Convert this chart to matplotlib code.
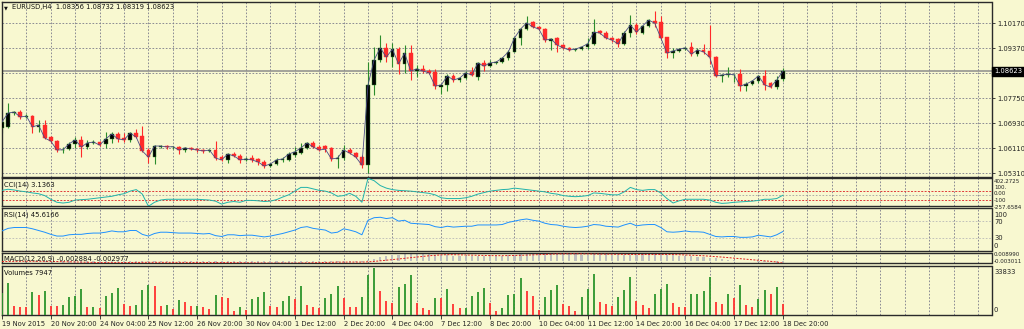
import matplotlib
matplotlib.use('Agg')
import matplotlib.pyplot as plt
import matplotlib.transforms as mtransforms
import numpy as np

# ---------------- data (EURUSD H4) ----------------
opens = [1.0678,1.0682,1.0727,1.0730,1.0714,1.0717,1.0682,1.0688,1.0649,1.0636,
         1.0607,1.0610,1.0627,1.0640,1.0617,1.0630,1.0633,1.0627,1.0643,1.0659,
         1.0646,1.0640,1.0662,1.0652,1.0607,1.0584,1.0617,1.0620,1.0617,1.0617,
         1.0607,1.0614,1.0610,1.0607,1.0604,1.0607,1.0584,1.0575,1.0594,1.0588,
         1.0575,1.0581,1.0578,1.0568,1.0555,1.0562,1.0575,1.0575,1.0591,1.0597,
         1.0614,1.0630,1.0617,1.0620,1.0614,1.0578,1.0581,1.0607,1.0597,1.0584,
         1.0558,1.0818,1.0899,1.0938,1.0908,1.0934,1.0886,1.0921,1.0863,1.0870,
         1.0863,1.0860,1.0811,1.0818,1.0847,1.0834,1.0840,1.0860,1.0844,1.0889,
         1.0879,1.0889,1.0892,1.0905,1.0925,1.0970,1.0999,1.1022,1.1006,1.0999,
         1.0960,1.0970,1.0947,1.0938,1.0931,1.0934,1.0941,1.0951,1.0993,1.0986,
         1.0970,1.0967,1.0951,1.0986,1.1012,1.0986,1.1009,1.1025,1.1022,1.0973,
         1.0921,1.0928,1.0934,1.0941,1.0918,1.0931,1.0928,1.0908,1.0847,1.0850,
         1.0850,1.0853,1.0814,1.0821,1.0831,1.0847,1.0824,1.0811,1.08356]
highs = [1.0714,1.0759,1.0733,1.0737,1.0724,1.0720,1.0704,1.0704,1.0652,1.0640,
         1.0617,1.0633,1.0649,1.0652,1.0640,1.0640,1.0636,1.0665,1.0665,1.0665,
         1.0662,1.0665,1.0675,1.0685,1.0614,1.0623,1.0623,1.0623,1.0620,1.0620,
         1.0617,1.0617,1.0614,1.0610,1.0610,1.0636,1.0591,1.0597,1.0601,1.0594,
         1.0584,1.0591,1.0581,1.0575,1.0565,1.0581,1.0584,1.0601,1.0617,1.0630,
         1.0633,1.0636,1.0623,1.0623,1.0617,1.0591,1.0623,1.0614,1.0601,1.0591,
         1.0892,1.0941,1.0980,1.0954,1.0954,1.0941,1.0947,1.0947,1.0882,1.0882,
         1.0870,1.0870,1.0818,1.0853,1.0853,1.0844,1.0863,1.0876,1.0892,1.0899,
         1.0899,1.0895,1.0908,1.0931,1.0973,1.1002,1.1041,1.1025,1.1009,1.1002,
         1.0970,1.0973,1.0951,1.0941,1.0938,1.0944,1.0970,1.1031,1.0996,1.0993,
         1.0973,1.0970,1.0993,1.1044,1.1019,1.1012,1.1031,1.1057,1.1041,1.0973,
         1.0938,1.0938,1.0941,1.0957,1.0938,1.0951,1.1012,1.0912,1.0853,1.0876,
         1.0853,1.0870,1.0827,1.0834,1.0850,1.0866,1.0827,1.0847,1.08732]
lows = [1.0662,1.0678,1.0720,1.0708,1.0711,1.0662,1.0665,1.0643,1.0630,1.0601,
        1.0597,1.0607,1.0614,1.0584,1.0610,1.0627,1.0620,1.0614,1.0630,1.0633,
        1.0633,1.0633,1.0646,1.0601,1.0565,1.0562,1.0614,1.0610,1.0610,1.0594,
        1.0601,1.0607,1.0601,1.0597,1.0601,1.0575,1.0571,1.0565,1.0584,1.0565,
        1.0571,1.0568,1.0558,1.0549,1.0552,1.0558,1.0568,1.0571,1.0584,1.0594,
        1.0610,1.0614,1.0604,1.0601,1.0571,1.0549,1.0575,1.0594,1.0581,1.0549,
        1.0533,1.0785,1.0892,1.0892,1.0876,1.0853,1.0857,1.0834,1.0844,1.0857,
        1.0853,1.0805,1.0789,1.0798,1.0827,1.0827,1.0837,1.0847,1.0834,1.0863,
        1.0876,1.0886,1.0889,1.0899,1.0925,1.0947,1.0996,1.1002,1.0996,1.0957,
        1.0931,1.0925,1.0934,1.0928,1.0928,1.0931,1.0934,1.0947,1.0983,1.0967,
        1.0957,1.0941,1.0947,1.0973,1.0983,1.0983,1.1006,1.1006,1.0967,1.0905,
        1.0905,1.0925,1.0931,1.0912,1.0912,1.0918,1.0886,1.0844,1.0827,1.0844,
        1.0827,1.0798,1.0798,1.0818,1.0824,1.0802,1.0808,1.0805,1.08319]
closes = [1.0698,1.0727,1.0730,1.0714,1.0717,1.0682,1.0688,1.0646,1.0636,1.0607,
          1.0608,1.0627,1.0640,1.0617,1.0630,1.0633,1.0623,1.0643,1.0659,1.0643,
          1.0640,1.0662,1.0649,1.0604,1.0584,1.0620,1.0620,1.0617,1.0618,1.0607,
          1.0614,1.0610,1.0607,1.0604,1.0607,1.0581,1.0575,1.0594,1.0588,1.0575,
          1.0578,1.0575,1.0568,1.0555,1.0562,1.0575,1.0578,1.0594,1.0601,1.0614,
          1.0630,1.0617,1.0607,1.0610,1.0578,1.0581,1.0607,1.0597,1.0584,1.0558,
          1.0818,1.0899,1.0938,1.0908,1.0934,1.0886,1.0921,1.0863,1.0870,1.0863,
          1.0857,1.0814,1.0818,1.0847,1.0834,1.0840,1.0857,1.0850,1.0889,1.0879,
          1.0889,1.0892,1.0905,1.0925,1.0970,1.0999,1.1019,1.1006,1.0999,1.0963,
          1.0967,1.0947,1.0938,1.0931,1.0934,1.0941,1.0951,1.0989,1.0986,1.0970,
          1.0963,1.0951,1.0986,1.1012,1.0989,1.1009,1.1028,1.1018,1.0970,1.0921,
          1.0928,1.0934,1.0938,1.0918,1.0931,1.0925,1.0908,1.0847,1.0850,1.0853,
          1.0851,1.0814,1.0821,1.0831,1.0847,1.0818,1.0811,1.0834,1.08623]
volumes = [16180,23150,6720,5970,5470,16930,14430,17670,6720,6720,
           7220,13440,13690,18910,5970,6100,4980,13930,16170,19660,
           7960,6720,7220,17910,22140,21150,6720,7220,4480,10950,
           9210,6720,6900,5470,4480,14430,13440,12440,2990,5720,
           3730,11690,13440,16670,6720,5470,9950,13930,11690,20900,
           7220,5470,4730,12190,15430,21400,12190,5970,5470,13440,
           28860,33833,17670,10200,8460,20200,22890,29110,8710,5230,
           3730,12690,12190,18910,8210,4980,5200,14180,16670,19660,
           8710,2990,4730,14680,15430,26620,17420,14180,3980,13440,
           18410,21900,7710,6720,2990,13440,18910,29860,9460,7710,
           6720,13440,17910,27620,10450,7220,4980,15180,18910,22890,
           8710,5470,5470,15430,15600,17670,27870,9460,7710,15180,
           12690,21650,7220,5470,11940,18410,15180,20150,7947]
cci = [118,144,127,100,83,57,39,-5,-92,-163,
       -180,-163,-110,-101,-92,-75,-57,-40,-22,13,
       39,100,136,30,-257.6584,-163,-110,-92,-92,-92,
       -92,-92,-92,-101,-110,-136,-206,-163,-145,-163,
       -119,-119,-128,-145,-136,-101,-40,13,100,188,
       188,153,118,100,57,-22,-5,48,-22,-163,
       402.2725,346,232,171,136,118,109,100,83,65,
       48,13,-57,-75,-75,-75,-57,-22,30,65,
       100,118,136,144,171,153,136,118,100,83,
       48,30,-5,-22,-31,-22,-5,57,48,30,
       13,13,83,188,136,118,136,136,57,-75,
       -180,-128,-92,-92,-92,-92,-110,-163,-189,-180,
       -163,-154,-145,-136,-119,-92,-92,-75,3.1363]
rsi = [47,53,55,55,55,52,48,44,39,35,
       35,38,39,39,41,42,42,44,47,45,
       45,48,48,39,35,41,44,44,43,42,
       42,42,41,40,41,36,34,38,38,36,
       37,37,35,33,35,38,41,45,49,55,
       57,53,51,49,42,44,52,49,45,38,
       72,78,79,76,78,70,72,65,64,63,
       62,57,55,58,56,57,58,58,61,61,
       61,61,62,67,70,73,75,72,70,65,
       62,61,58,56,55,56,58,62,61,58,
       57,56,61,65,59,61,62,62,55,45,
       44,45,47,45,45,44,39,34,33,34,
       34,32,32,33,37,35,33,38,45.6166]
macd_main = [-0.0008,-0.0006,-0.0005,-0.0005,-0.0006,-0.0008,-0.0010,-0.0013,-0.0016,-0.0020,
             -0.0023,-0.0024,-0.0024,-0.0025,-0.0025,-0.0025,-0.0025,-0.0024,-0.0022,-0.0021,
             -0.0020,-0.0018,-0.0016,-0.0018,-0.0021,-0.0022,-0.0022,-0.0022,-0.0022,-0.0022,
             -0.0022,-0.0022,-0.0022,-0.0022,-0.0022,-0.0024,-0.0026,-0.0026,-0.0027,-0.0028,
             -0.0028,-0.0029,-0.0030,-0.0031,-0.0032,-0.0031,-0.0030,-0.0028,-0.0026,-0.0023,
             -0.0020,-0.0018,-0.0017,-0.0016,-0.0017,-0.0018,-0.0016,-0.0016,-0.0017,-0.0019,
             0.0004,0.0025,0.0044,0.0056,0.0067,0.0072,0.0078,0.0079,0.0080,0.0080,
             0.0079,0.0074,0.0069,0.0067,0.0063,0.0060,0.0059,0.0057,0.0059,0.0059,
             0.0060,0.0061,0.0063,0.0067,0.0073,0.0080,0.0085,0.0089,0.0090,0.0089,
             0.0087,0.0084,0.0082,0.0080,0.0077,0.0075,0.0074,0.0076,0.0077,0.0076,
             0.0074,0.0071,0.0071,0.0074,0.0075,0.0077,0.0080,0.0082,0.0080,0.0073,
             0.0066,0.0061,0.0056,0.0051,0.0047,0.0043,0.0038,0.0028,0.0019,0.0013,
             0.0007,0.0000,-0.0006,-0.0010,-0.0013,-0.0017,-0.0021,-0.0025,-0.002884]
macd_signal = [-0.0010,-0.0009,-0.0008,-0.0007,-0.0007,-0.0007,-0.0007,-0.0008,-0.0009,-0.0010,
               -0.0012,-0.0014,-0.0016,-0.0018,-0.0020,-0.0022,-0.0023,-0.0024,-0.0024,-0.0024,
               -0.0023,-0.0022,-0.0021,-0.0020,-0.0020,-0.0020,-0.0020,-0.0020,-0.0021,-0.0021,
               -0.0021,-0.0022,-0.0022,-0.0022,-0.0022,-0.0022,-0.0023,-0.0023,-0.0024,-0.0025,
               -0.0026,-0.0026,-0.0027,-0.0028,-0.0029,-0.0029,-0.0030,-0.0030,-0.0029,-0.0028,
               -0.0027,-0.0025,-0.0023,-0.0021,-0.0019,-0.0018,-0.0017,-0.0017,-0.0017,-0.0017,
               -0.0014,-0.0009,-0.0002,0.0005,0.0013,0.0021,0.0029,0.0037,0.0045,0.0053,
               0.0060,0.0066,0.0071,0.0073,0.0073,0.0071,0.0069,0.0067,0.0065,0.0063,
               0.0062,0.0061,0.0061,0.0062,0.0063,0.0065,0.0068,0.0071,0.0074,0.0077,
               0.0080,0.0082,0.0083,0.0084,0.0084,0.0083,0.0082,0.0080,0.0079,0.0078,
               0.0077,0.0076,0.0075,0.0075,0.0075,0.0075,0.0075,0.0076,0.0076,0.0076,
               0.0075,0.0073,0.0070,0.0067,0.0064,0.0060,0.0055,0.0050,0.0044,0.0038,
               0.0031,0.0024,0.0017,0.0011,0.0005,-0.0001,-0.0008,-0.0016,-0.002977]
date_labels = ['19 Nov 2015', '20 Nov 20:00', '24 Nov 04:00', '25 Nov 12:00', '26 Nov 20:00',
               '30 Nov 04:00', '1 Dec 12:00', '2 Dec 20:00', '4 Dec 04:00', '7 Dec 12:00',
               '8 Dec 20:00', '10 Dec 04:00', '11 Dec 12:00', '14 Dec 20:00', '16 Dec 04:00',
               '17 Dec 12:00', '18 Dec 20:00']
price_grid = [1.0531, 1.0612, 1.0693, 1.0774, 1.0855, 1.0936, 1.1017]
price_grid_labels = ['1.05310', '1.06110', '1.06930', '1.07750', '', '1.09370', '1.10170']
last_price = 1.08623
cci_axis_labels = ['402.2725', '100.', '0.00', '-100', '-257.6584']
rsi_axis_labels = ['100', '70', '30', '0']
macd_axis_labels = ['0.008990', '-0.003011']
vol_axis_labels = ['33833', '0']

# ---------------- style ----------------
BG = '#F8F8D0'
GRID = '#7a7a8a'
BULL_WICK = '#2c8c2c'
BEAR = '#ff2a2a'
SPINE = '#2a2a2a'
FS = 4.9
FS_SMALL = 4.0
plt.rcParams['font.family'] = ['DejaVu Sans']

n = len(closes)
x = np.arange(n)
o = np.array(opens); c = np.array(closes); h = np.array(highs); l = np.array(lows)
up = c >= o

W, H = 1024.0, 329.0
def rect(x0, y0, x1, y1):
    return [x0 / W, 1 - y1 / H, (x1 - x0) / W, (y1 - y0) / H]

fig = plt.figure(figsize=(10.24, 3.29), dpi=100, facecolor=BG)
ax_p = fig.add_axes(rect(1.5, 1.7, 991.5, 176.7))
ax_c = fig.add_axes(rect(1.5, 178.3, 991.5, 206.3))
ax_r = fig.add_axes(rect(1.5, 208.3, 991.5, 251.0))
ax_m = fig.add_axes(rect(1.5, 253.3, 991.5, 263.3))
ax_v = fig.add_axes(rect(1.5, 265.7, 991.5, 315.0))
axes = [ax_p, ax_c, ax_r, ax_m, ax_v]

xmin, xmax = -0.08, 162.2
for ax in axes:
    ax.set_facecolor(BG)
    ax.set_xlim(xmin, xmax)
    for s in ax.spines.values():
        s.set_color(SPINE)
        s.set_linewidth(1.0)
    ax.set_xticks([])
    ax.tick_params(axis='y', which='both', left=False, labelleft=False)
    for g in range(0, 163, 4):
        ax.axvline(g, color=GRID, lw=0.6, ls=(0, (2, 2)), zorder=0)

# ---- price panel ----
ax_p.set_ylim(1.05206, 1.10876)
for gy in price_grid:
    ax_p.axhline(gy, color=GRID, lw=0.6, ls=(0, (2, 2)), zorder=0)
ax_p.yaxis.tick_right()
ax_p.set_yticks(price_grid)
ax_p.set_yticklabels(price_grid_labels)
ax_p.tick_params(axis='y', right=True, labelright=True, length=2.5, width=0.6,
                 pad=1.5, labelsize=FS, colors='#222222')
ax_p.axhline(last_price, color='#8c8c8c', lw=1.1, zorder=1)

wick_col = np.where(up, BULL_WICK, BEAR)
ax_p.vlines(x, l, h, colors=wick_col, lw=0.8, zorder=2)
body_bottom = np.minimum(o, c)
body_h = np.maximum(np.abs(c - o), 0.00009)
ax_p.bar(x[up], body_h[up], bottom=body_bottom[up], width=0.6,
         color='black', edgecolor=BULL_WICK, linewidth=0.3, zorder=3)
ax_p.bar(x[~up], body_h[~up], bottom=body_bottom[~up], width=0.6,
         color=BEAR, edgecolor=BEAR, linewidth=0.3, zorder=3)
ax_p.plot(x, c, color='#4a4a85', lw=0.6, zorder=4)

tp = mtransforms.blended_transform_factory(ax_p.transAxes, ax_p.transData)
ax_p.text(1.0025, last_price, '1.08623', transform=tp, fontsize=FS, color='white',
          va='center', ha='left',
          bbox=dict(boxstyle='square,pad=0.25', facecolor='black', edgecolor='black'))

fig.text(6 / W, 1 - 7.5 / H, '\u25BC', fontsize=3.6, va='center', ha='center', color='#111111')
fig.text(12 / W, 1 - 7.5 / H, 'EURUSD,H4  1.08356 1.08732 1.08319 1.08623',
         fontsize=FS, va='center', ha='left', color='#111111')

# ---- CCI panel ----
ax_c.set_ylim(-257.6584, 402.2725)
ax_c.axhline(100, color='#e03a3a', lw=0.7, ls=(0, (2, 1.5)), zorder=1)
ax_c.axhline(-100, color='#e03a3a', lw=0.7, ls=(0, (2, 1.5)), zorder=1)
ax_c.axhline(0, color='#a0a0a0', lw=0.6, ls=(0, (2, 2)), zorder=1)
ax_c.plot(x, cci, color='#20B2AA', lw=0.7, zorder=3)
ax_c.text(0.003, 0.76, 'CCI(14) 3.1363', transform=ax_c.transAxes, fontsize=FS,
          va='center', ha='left', color='#111111')
for txt, fy in zip(cci_axis_labels, [0.90, 0.67, 0.44, 0.21, -0.03]):
    ax_c.text(1.0025, fy, txt, transform=ax_c.transAxes, fontsize=FS_SMALL, va='center',
              ha='left', color='#222222', clip_on=False)

# ---- RSI panel ----
ax_r.set_ylim(0, 100)
ax_r.axhline(70, color='#b8b8b8', lw=0.6, ls=(0, (2, 2)), zorder=1)
ax_r.axhline(30, color='#b8b8b8', lw=0.6, ls=(0, (2, 2)), zorder=1)
ax_r.plot(x, rsi, color='#1E90FF', lw=0.7, zorder=3)
ax_r.text(0.003, 0.84, 'RSI(14) 45.6166', transform=ax_r.transAxes, fontsize=FS,
          va='center', ha='left', color='#111111')
for txt, fy in zip(rsi_axis_labels, [0.85, 0.69, 0.30, 0.12]):
    ax_r.text(1.0025, fy, txt, transform=ax_r.transAxes, fontsize=FS, va='center',
              ha='left', color='#222222')

# ---- MACD panel ----
ax_m.set_ylim(-0.0032, 0.00899)
ax_m.bar(x, macd_main, width=0.35, color='#c0c0c0', zorder=2)
ax_m.plot(x, macd_signal, color='#e02020', lw=0.7, ls=(0, (2, 1.5)), zorder=3)
ax_m.text(0.003, 0.45, 'MACD(12,26,9) -0.002884 -0.002977', transform=ax_m.transAxes,
          fontsize=FS, va='center', ha='left', color='#111111')
for txt, fy in zip(macd_axis_labels, [0.85, 0.15]):
    ax_m.text(1.0025, fy, txt, transform=ax_m.transAxes, fontsize=FS_SMALL, va='center',
              ha='left', color='#222222')

# ---- Volumes panel ----
vol = np.array(volumes, dtype=float)
vcol = ['#2c952c'] + ['#2c952c' if vol[i] > vol[i - 1] else '#ff3030' for i in range(1, n)]
ax_v.set_ylim(0, 35860)
ax_v.vlines(x, 0, vol, colors=vcol, lw=1.3, zorder=3)
ax_v.text(0.003, 0.86, 'Volumes 7947', transform=ax_v.transAxes, fontsize=FS,
          va='center', ha='left', color='#111111')
for txt, fy in zip(vol_axis_labels, [0.87, 0.10]):
    ax_v.text(1.0025, fy, txt, transform=ax_v.transAxes, fontsize=FS, va='center',
              ha='left', color='#222222')

ax_v.set_xticks(np.arange(0, n, 8))
ax_v.set_xticklabels(date_labels)
ax_v.tick_params(axis='x', bottom=True, length=3, width=0.6, pad=1.5, labelsize=FS,
                 colors='#222222')
for lab in ax_v.get_xticklabels():
    lab.set_ha('left')

fig.savefig('out.png', dpi=100, facecolor=BG)
